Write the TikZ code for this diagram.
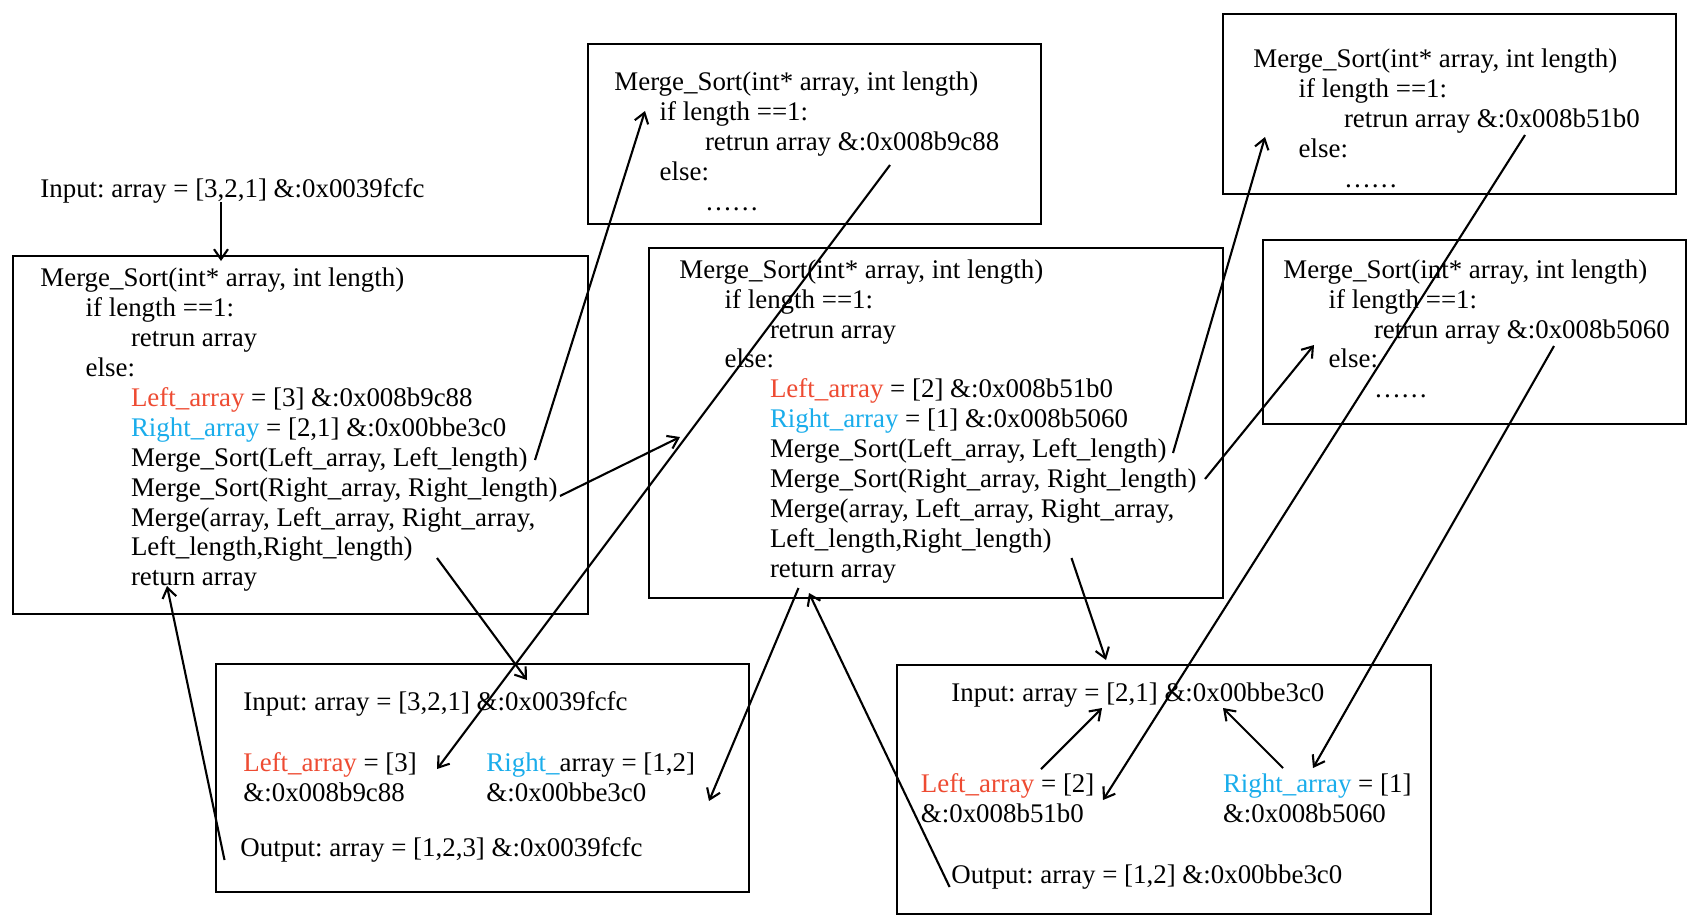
\documentclass[tikz,border=0pt]{standalone}
\usepackage{fontspec}
\setmainfont{Liberation Serif}
\usetikzlibrary{arrows.meta,fit}
\frenchspacing
\definecolor{lred}{HTML}{EE4B32}
\definecolor{lblue}{HTML}{1AADEB}
\newcommand\indA{\hspace*{22.65pt}}
\newcommand\indB{\hspace*{45.3pt}}
\tikzset{
  txt/.style={anchor=north west, inner sep=0pt, align=left, font=\fontsize{13.45pt}{14.95pt}\selectfont},
  boxst/.style={draw, line width=1.25pt, inner sep=0pt, fill=none},
  arr/.style={line width=1.05pt, -{Straight Barb[length=5pt,width=7pt,line width=1.05pt]}}
}
\begin{document}
\begin{tikzpicture}[x=0.5pt,y=-0.5pt]
\useasboundingbox (0,0) rectangle (1692,923);
\fill[white] (0,0) rectangle (1692,923);
% boxes
\node[boxst, fit={(13,256) (588,614)}] (b1) {};
\node[boxst, fit={(588,44) (1041,224)}] (b2) {};
\node[boxst, fit={(649,248) (1223,598)}] (b3) {};
\node[boxst, fit={(1223,14) (1676,194)}] (b4) {};
\node[boxst, fit={(1263,240) (1686,424)}] (b5) {};
\node[boxst, fit={(216,664) (749,892)}] (b6) {};
\node[boxst, fit={(897,665) (1431,914)}] (b7) {};
% texts
\node[txt] (tin) at (40,176) {\strut Input: array = [3,2,1] \&:0x0039fcfc};
\node[txt] (t1) at (40,265.5) {\strut Merge\_Sort(int* array, int length)\\
\indA if length ==1:\\
\indB retrun array\\
\indA else:\\
\indB\textcolor{lred}{Left\_array} = [3] \&:0x008b9c88\\
\indB\textcolor{lblue}{Right\_array} = [2,1] \&:0x00bbe3c0\\
\indB Merge\_Sort(Left\_array, Left\_length)\\
\indB Merge\_Sort(Right\_array, Right\_length)\\
\indB Merge(array, Left\_array, Right\_array,\\
\indB Left\_length,Right\_length)\\
\indB return array};
\node[txt] (t2) at (614,69.1) {\strut Merge\_Sort(int* array, int length)\\
\indA if length ==1:\\
\indB retrun array \&:0x008b9c88\\
\indA else:\\
\indB ……};
\node[txt] (t3) at (679,256.9) {\strut Merge\_Sort(int* array, int length)\\
\indA if length ==1:\\
\indB retrun array\\
\indA else:\\
\indB\textcolor{lred}{Left\_array} = [2] \&:0x008b51b0\\
\indB\textcolor{lblue}{Right\_array} = [1] \&:0x008b5060\\
\indB Merge\_Sort(Left\_array, Left\_length)\\
\indB Merge\_Sort(Right\_array, Right\_length)\\
\indB Merge(array, Left\_array, Right\_array,\\
\indB Left\_length,Right\_length)\\
\indB return array};
\node[txt] (t4) at (1253,46.5) {\strut Merge\_Sort(int* array, int length)\\
\indA if length ==1:\\
\indB retrun array \&:0x008b51b0\\
\indA else:\\
\indB ……};
\node[txt] (t5) at (1283,256.9) {\strut Merge\_Sort(int* array, int length)\\
\indA if length ==1:\\
\indB retrun array \&:0x008b5060\\
\indA else:\\
\indB ……};
\node[txt] (t6in) at (243,689.6) {\strut Input: array = [3,2,1] \&:0x0039fcfc};
\node[txt] (t6l) at (243,750.1) {\strut\textcolor{lred}{Left\_array} = [3]\\ \&:0x008b9c88};
\node[txt] (t6r) at (486,750.1) {\strut\textcolor{lblue}{Right\_}array = [1,2]\\ \&:0x00bbe3c0};
\node[txt] (t6out) at (240,835.3) {\strut Output: array = [1,2,3] \&:0x0039fcfc};
\node[txt] (t7in) at (951,679.9) {\strut Input: array = [2,1] \&:0x00bbe3c0};
\node[txt] (t7l) at (920.5,771.6) {\strut\textcolor{lred}{Left\_array} = [2]\\ \&:0x008b51b0};
\node[txt] (t7r) at (1222.6,771.6) {\strut\textcolor{lblue}{Right\_array} = [1]\\ \&:0x008b5060};
\node[txt] (t7out) at (951,862.3) {\strut Output: array = [1,2] \&:0x00bbe3c0};
% arrow end points
\coordinate (a1s) at (221,202); \coordinate (a1e) at (221,261);
\coordinate (a2s) at (535,460); \coordinate (a2e) at (645,111);
\coordinate (a3s) at (560,496); \coordinate (a3e) at (680,437);
\coordinate (a4s) at (890,165); \coordinate (a4e) at (437,769);
\coordinate (a5s) at (437,558); \coordinate (a5e) at (527,680);
\coordinate (a6s) at (224.5,860); \coordinate (a6e) at (167,586);
\coordinate (a7s) at (798.5,588); \coordinate (a7e) at (709,801);
\coordinate (a8s) at (1173,453); \coordinate (a8e) at (1265,137);
\coordinate (a9s) at (1205,479); \coordinate (a9e) at (1314,345);
\coordinate (a10s) at (1071.5,558); \coordinate (a10e) at (1106,660);
\coordinate (a11s) at (1525,135); \coordinate (a11e) at (1103,800);
\coordinate (a12s) at (1554,346); \coordinate (a12e) at (1313,768);
\coordinate (a13s) at (1041,769); \coordinate (a13e) at (1102,708);
\coordinate (a14s) at (1283,768); \coordinate (a14e) at (1223,708);
\coordinate (a15s) at (949.6,887); \coordinate (a15e) at (809,593);
% arrows
\foreach \i in {1,...,15} { \draw[arr] (a\i s) -- (a\i e); }
\end{tikzpicture}
\end{document}
